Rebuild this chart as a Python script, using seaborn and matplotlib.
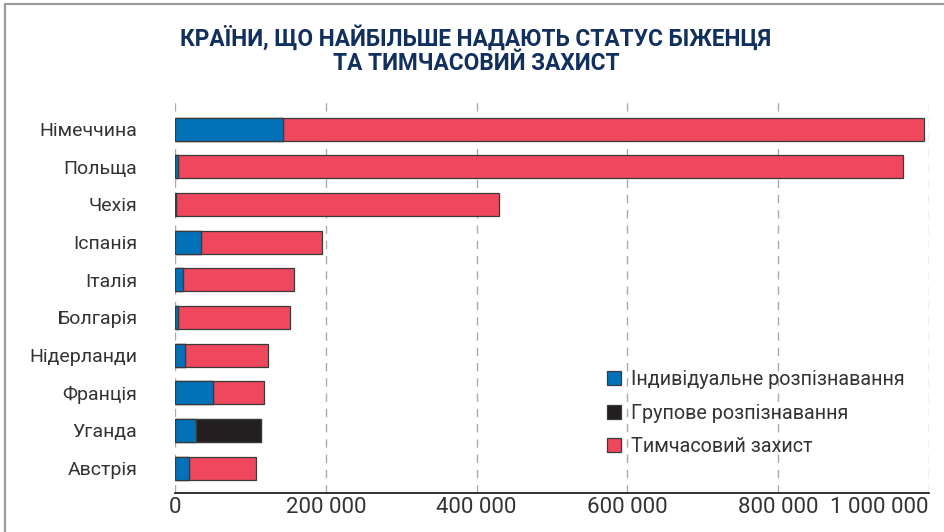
import matplotlib
matplotlib.use("Agg")
import matplotlib.pyplot as plt
import seaborn as sns
import pandas as pd
from matplotlib.patches import Patch
from matplotlib.lines import Line2D
from matplotlib.ticker import FuncFormatter

countries = ['Німеччина', 'Польща', 'Чехія', 'Іспанія', 'Італія',
             'Болгарія', 'Нідерланди', 'Франція', 'Уганда', 'Австрія']
individual = [143000, 3500, 1500, 35000, 11000, 3500, 13500, 50000, 28000, 18000]
group = [0, 0, 0, 0, 0, 0, 0, 0, 86500, 0]
temporary = [850000, 962500, 428500, 160000, 146500, 148500, 110000, 67500, 0, 90000]
series_names = ['Індивідуальне розпізнавання', 'Групове розпізнавання', 'Тимчасовий захист']
xticks = [0, 200000, 400000, 600000, 800000, 1000000]
title_lines = ['КРАЇНИ, ЩО НАЙБІЛЬШЕ НАДАЮТЬ СТАТУС БІЖЕНЦЯ', 'ТА ТИМЧАСОВИЙ ЗАХИСТ']

BLUE = '#0371b8'
BLACK = '#231f20'
RED = '#ef475d'
NAVY = '#12305e'
TEXT = '#333333'
EDGE = '#3a3a3a'

sns.set_theme(style='white')
plt.rcParams['font.family'] = ['Roboto', 'DejaVu Sans']

df = pd.DataFrame({'country': countries, 'ind': individual, 'grp': group, 'tmp': temporary})
df['c1'] = df['ind']
df['c2'] = df['ind'] + df['grp']
df['c3'] = df['ind'] + df['grp'] + df['tmp']

fig = plt.figure(figsize=(9.45, 5.32), dpi=100)
ax = fig.add_axes([175/945, 1-493/532, (929-175)/945, (493-97)/532])

for col, color in [('c3', RED), ('c2', BLACK), ('c1', BLUE)]:
    sns.barplot(data=df, x=col, y='country', orient='h', color=color, saturation=1,
                width=0.61, edgecolor=EDGE, linewidth=0.9, errorbar=None, ax=ax, zorder=3)

ax.set_xlim(0, 1000000)
ax.set_ylim(9.66, -0.85)
ax.set_xticks(xticks)
ax.xaxis.set_major_formatter(FuncFormatter(lambda v, p: f"{int(v):,}".replace(',', ' ')))
ax.set_xlabel('')
ax.set_ylabel('')
ax.grid(axis='x', color='#aaaaaa', linestyle=(0, (6, 5)), linewidth=1.0, zorder=0)
ax.set_axisbelow(True)
for s in ['top', 'right', 'left']:
    ax.spines[s].set_visible(False)
ax.spines['bottom'].set_color('#222222')
ax.spines['bottom'].set_linewidth(1.3)
ax.tick_params(axis='y', length=0, pad=27, labelsize=14, labelcolor=TEXT)
ax.tick_params(axis='x', length=0, pad=3, labelsize=16, labelcolor=TEXT)
xl = ax.get_xticklabels()
xl[-1].set_horizontalalignment('right')

handles = [Patch(facecolor=c, edgecolor=EDGE, linewidth=0.9) for c in [BLUE, BLACK, RED]]
leg = fig.legend(handles, series_names, loc='upper left', bbox_to_anchor=(607/945, 1-370/532),
                 frameon=False, fontsize=14.2, handlelength=0.72, handleheight=0.72,
                 handletextpad=0.5, labelspacing=0.74, borderpad=0, borderaxespad=0)
for t in leg.get_texts():
    t.set_color(TEXT)

tfont = ['Roboto', 'DejaVu Sans']
fig.text(476/945, 1-38/532, title_lines[0], ha='center', va='center', fontsize=16.3,
         fontweight='bold', color=NAVY, family=tfont)
fig.text(476/945, 1-63/532, title_lines[1], ha='center', va='center', fontsize=16.3,
         fontweight='bold', color=NAVY, family=tfont)

fig.add_artist(Line2D([5/945, 1], [1-4/532, 1-4/532], transform=fig.transFigure,
                      color='#9a9a9a', linewidth=1.6))
fig.add_artist(Line2D([5/945, 5/945], [0, 1-4/532], transform=fig.transFigure,
                      color='#9a9a9a', linewidth=1.6))

fig.savefig('out.png', dpi=100)
